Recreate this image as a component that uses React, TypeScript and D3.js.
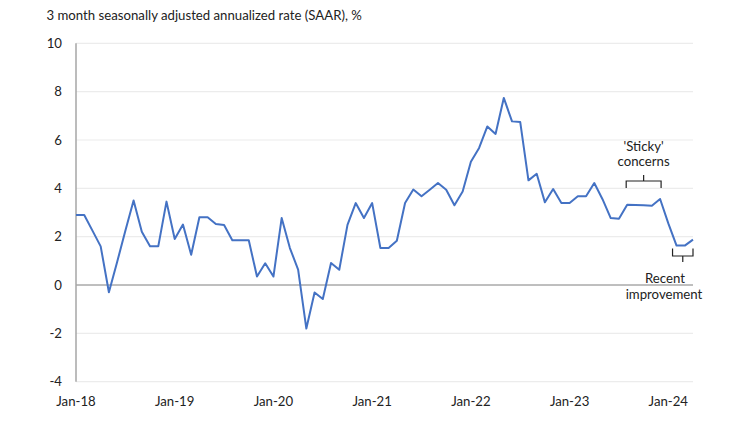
import React from "react";
import * as d3 from "d3";

const TITLE = "3 month seasonally adjusted annualized rate (SAAR), %";
const START_YEAR = 2018;
const values: number[] = [
  2.9, 2.9, 2.25, 1.6, -0.3, 0.95, 2.25, 3.5, 2.2, 1.6, 1.6, 3.45,
  1.9, 2.5, 1.25, 2.8, 2.8, 2.52, 2.48, 1.85, 1.85, 1.85, 0.35, 0.9,
  0.35, 2.77, 1.53, 0.64, -1.8, -0.31, -0.58, 0.91, 0.63, 2.49, 3.39, 2.77,
  3.39, 1.53, 1.53, 1.83, 3.39, 3.95, 3.67, 3.94, 4.22, 3.94, 3.3, 3.87,
  5.1, 5.67, 6.56, 6.25, 7.74, 6.77, 6.74, 4.33, 4.6, 3.42, 3.97, 3.39,
  3.39, 3.67, 3.67, 4.22, 3.55, 2.77, 2.74, 3.32, 3.31, 3.3, 3.28, 3.56,
  2.55, 1.63, 1.63, 1.88,
];
const yTicks = [-4, -2, 0, 2, 4, 6, 8, 10];
const xTickIndices = [0, 12, 24, 36, 48, 60, 72];
const xTickLabels = ["Jan-18", "Jan-19", "Jan-20", "Jan-21", "Jan-22", "Jan-23", "Jan-24"];
const stickyRange = [67, 71];
const recentRange = [73, 75];
const stickyLabel = ["'Sticky'", "concerns"];
const recentLabel = ["Recent", "improvement"];

const W = 750, H = 422;
const L = 76, R = 693, T = 43.3, B = 381.7;
const FONT = "Lato, 'Open Sans', sans-serif";

export default function App() {
  const x = d3.scaleLinear().domain([0, values.length - 1]).range([L, R]);
  const y = d3.scaleLinear().domain([-4, 10]).range([B, T]);
  const line = d3.line<number>().x((_, i) => x(i)).y((d) => y(d));

  const sx0 = x(stickyRange[0]) - 1, sx1 = x(stickyRange[1]) + 1;
  const sTop = 181, sBot = 188;
  const sMid = (sx0 + sx1) / 2;
  const rx0 = x(recentRange[0]) - 4, rx1 = x(recentRange[1]);
  const rTop = 248.5, rBot = 256;
  const rMid = (rx0 + rx1) / 2;

  return (
    <svg width={W} height={H} style={{ position: "absolute", left: 0, top: 0, background: "#fff" }}>
      <text x={46.5} y={19.5} fontFamily={FONT} fontSize={13.2} fill="#222">{TITLE}</text>
      {yTicks.filter((t) => t !== 0).map((t) => (
        <line key={t} x1={L} x2={R} y1={y(t)} y2={y(t)} stroke="#ececec" strokeWidth={1.2} />
      ))}
      <line x1={L} x2={R} y1={y(0)} y2={y(0)} stroke="#7f7f7f" strokeWidth={1} />
      <line x1={L} x2={L} y1={T} y2={B} stroke="#a6a6a6" strokeWidth={1.5} />
      {yTicks.map((t) => (
        <text key={t} x={62} y={y(t)} dy="0.35em" textAnchor="end" fontFamily={FONT} fontSize={13.2} fill="#222">{t}</text>
      ))}
      {xTickIndices.map((idx, k) => (
        <text key={idx} x={x(idx)} y={406} textAnchor="middle" fontFamily={FONT} fontSize={13.2} fill="#222">{xTickLabels[k]}</text>
      ))}
      <path d={line(values) || ""} fill="none" stroke="#4472c4" strokeWidth={2} strokeLinejoin="round" />
      {/* Sticky concerns brace */}
      <path d={`M${sx0},${sBot} L${sx0},${sTop} L${sx1},${sTop} L${sx1},${sBot} M${sMid},${sTop} L${sMid},${sTop - 6}`} fill="none" stroke="#222" strokeWidth={1.2} />
      <text x={sMid} y={151} textAnchor="middle" fontFamily={FONT} fontSize={13.2} fill="#222">{stickyLabel[0]}</text>
      <text x={sMid} y={166} textAnchor="middle" fontFamily={FONT} fontSize={13.2} fill="#222">{stickyLabel[1]}</text>
      {/* Recent improvement brace */}
      <path d={`M${rx0},${rTop} L${rx0},${rBot} L${rx1},${rBot} L${rx1},${rTop} M${rMid},${rBot} L${rMid},${rBot + 6}`} fill="none" stroke="#222" strokeWidth={1.2} />
      <text x={665} y={282.5} textAnchor="middle" fontFamily={FONT} fontSize={13.2} fill="#222">{recentLabel[0]}</text>
      <text x={664} y={298.5} textAnchor="middle" fontFamily={FONT} fontSize={13.2} fill="#222">{recentLabel[1]}</text>
    </svg>
  );
}
